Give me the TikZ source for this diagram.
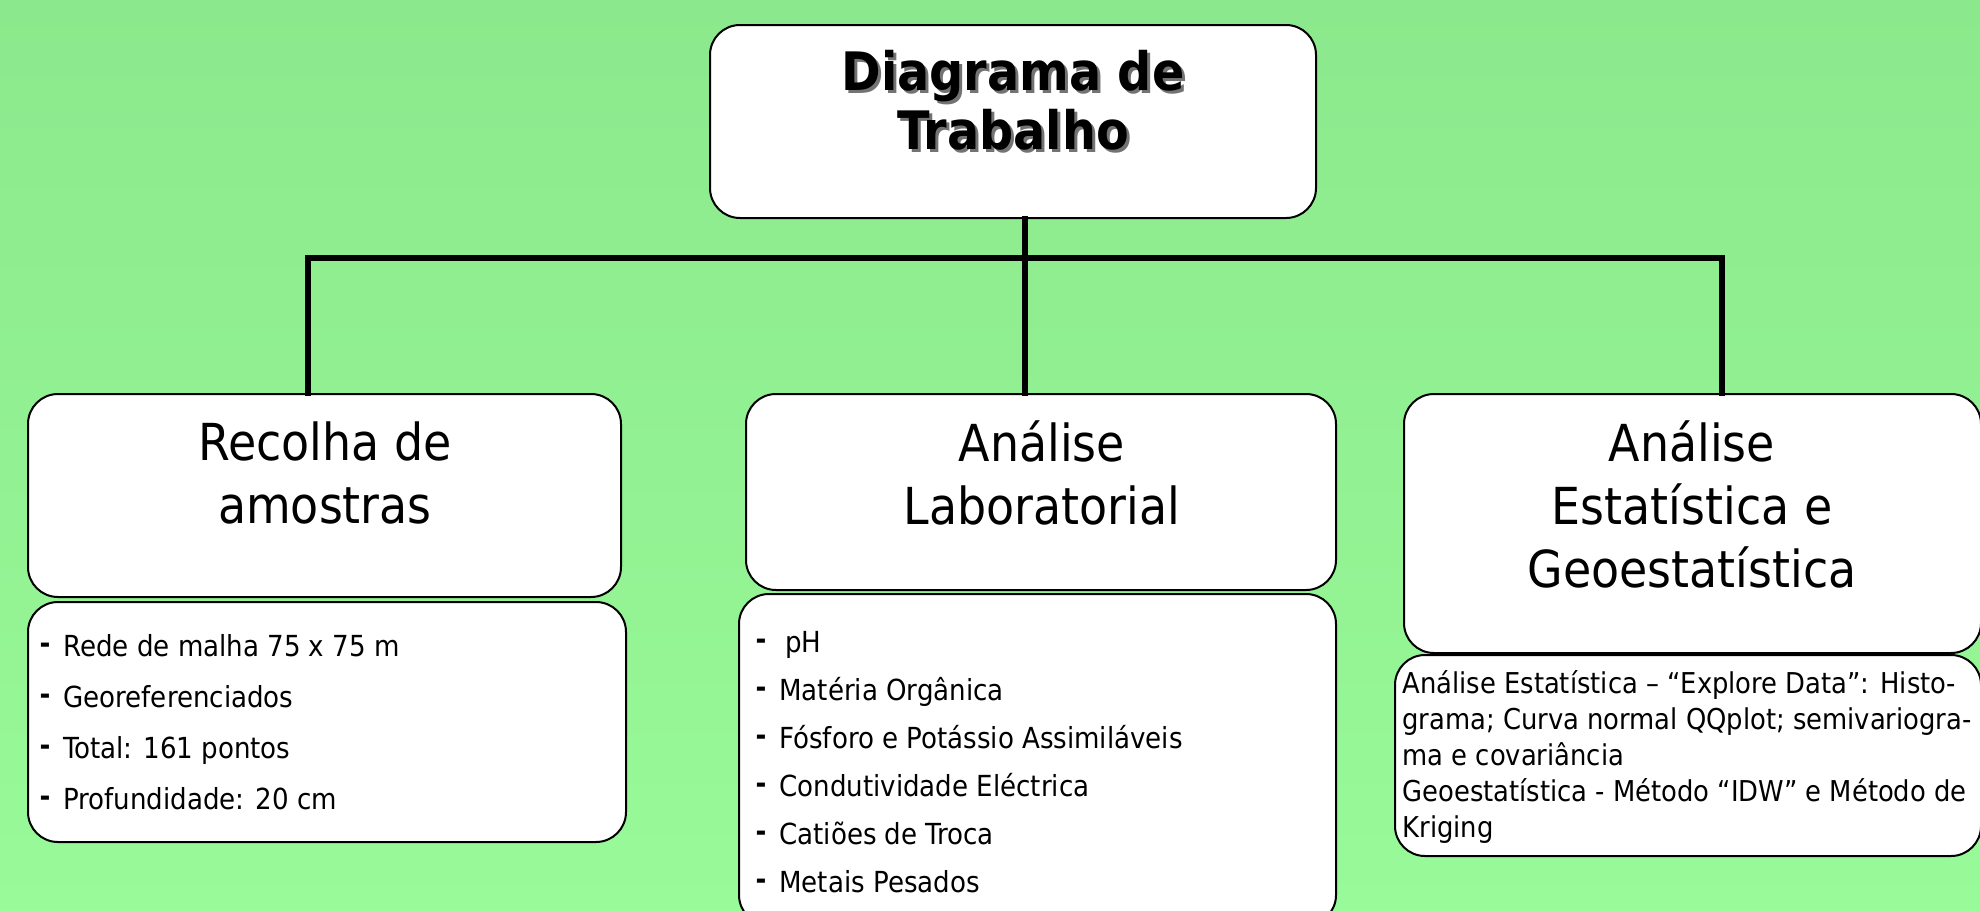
\documentclass[tikz,border=0pt]{standalone}
\usepackage{fontspec}
\setmainfont{DejaVu Sans Condensed}
\usetikzlibrary{positioning,calc}

\definecolor{fundoA}{RGB}{140,232,140}
\definecolor{fundoB}{RGB}{152,250,152}
\newcommand{\traco}{\raisebox{3pt}{\bfseries -}\hspace{13pt}}

\tikzset{
  caixa/.style={draw=black, line width=2pt, fill=white, rounded corners=30pt, inner sep=0pt},
  ligacao/.style={line width=6pt, line cap=rect},
  titulo/.style={align=center, font=\fontsize{53}{59}\selectfont\bfseries},
  cabeca/.style={align=center, font=\fontsize{51}{63}\selectfont},
  lista/.style={align=left, anchor=west, font=\fontsize{29}{51}\selectfont},
}

\begin{document}
\begin{tikzpicture}[x=1pt, y=-1pt]
            \useasboundingbox (0,0) rectangle (1980,910);
            \clip (0,0) rectangle (1980,910);
            \shade[top color=fundoA, bottom color=fundoB] (0,0) rectangle (1980,910);

            % caixas
            \node (T) [caixa, minimum width=606, minimum height=193] at (1013,121.5) {};
            \node (L1) [caixa, minimum width=593, minimum height=203] at (324.5,495.5) {};
            \node (L2) [caixa, minimum width=598, minimum height=240] at (327,722) {};
            \node (M1) [caixa, minimum width=590, minimum height=196] at (1041,492) {};
            \node (M2) [caixa, minimum width=597, minimum height=331] at (1037.5,759.5) {};
            \node (R1) [caixa, minimum width=577, minimum height=259] at (1692.5,523.5) {};
            \node (R2) [caixa, minimum width=586, minimum height=201] at (1688,755.5) {};

            % textos
            \node (Ts) [titulo, text=black!55] at (1016,103) {Diagrama de\\Trabalho};
            \node (Tt) [titulo] at (1013,100) {Diagrama de\\Trabalho};
            \node (L1t) [cabeca] at (325,473) {Recolha de\\amostras};
            \node (M1t) [cabeca] at (1042,473) {Análise\\Laboratorial};
            \node (R1t) [cabeca] at (1692,504) {Análise\\Estatística e\\Geoestatística};
            \node (L2t) [lista] at (36,722) {\traco Rede de malha 75 x 75 m\\\traco Georeferenciados\\\traco Total: 161 pontos\\\traco Profundidade: 20 cm};
            \node (M2t) [lista, font=\fontsize{29}{48}\selectfont] at (752,762) {\traco\hspace{6pt}pH\\\traco Matéria Orgânica\\\traco Fósforo e Potássio Assimiláveis\\\traco Condutividade Eléctrica\\\traco Catiões de Troca\\\traco Metais Pesados};
            \node (R2t) [lista, font=\fontsize{28.7}{36}\selectfont] at (1399,757) {Análise Estatística – “Explore Data”: Histo-\\grama; Curva normal QQplot; semivariogra-\\ma e covariância\\Geoestatística - Método “IDW” e Método de\\Kriging};

            % ligacoes
            \coordinate (jm) at (1025,258);
            \coordinate (jl) at (308,258);
            \coordinate (jr) at (1722,258);
            \draw[ligacao] (jm |- T.south) -- (jm |- M1.north);
            \draw[ligacao] (jl |- L1.north) -- (jl) -- (jr) -- (jr |- R1.north);
    \end{tikzpicture}
\end{document}
